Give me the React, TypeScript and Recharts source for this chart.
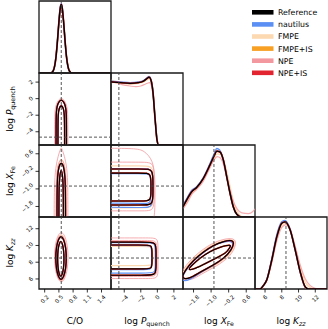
import React from 'react';
import { LineChart, Line, XAxis, YAxis, ReferenceLine, ReferenceArea } from 'recharts';

type Pt = [number, number];

// legend / series
const seriesNames = ['Reference', 'nautilus', 'FMPE', 'FMPE+IS', 'NPE', 'NPE+IS'];
const seriesColors = ['#000000', '#5b8ff3', '#fdd9b2', '#f7a024', '#f3989e', '#e1242f'];
const seriesWidths = [1.1, 1.2, 1.2, 1.3, 1.0, 1.5];
const seriesOpacity = [1, 1, 1, 1, 0.8, 1];
const drawOrder = [2, 3, 4, 1, 5, 0];

// parameters: C/O, log Pquench, log XFe, log Kzz
const coRange: Pt = [0.08, 1.6];
const pRange: Pt = [-5.6, 3.1];
const feRange: Pt = [-2.28, 1.0];
const kzzRange: Pt = [4.8, 13.4];
const histRange: Pt = [0, 1.05];

const coTicks = [0.2, 0.5, 0.8, 1.1, 1.4];
const pTicks = [-4, -2, 0, 2];
const feTicks = [-1.8, -1.0, -0.2, 0.6];
const kzzTicks = [6, 8, 10, 12];

const coTickLabels = ['0.2', '0.5', '0.8', '1.1', '1.4'];
const pTickLabels = ['\u22124', '\u22122', '0', '2'];
const feTickLabels = ['\u22121.8', '\u22121.0', '\u22120.2', '0.6'];
const kzzTickLabels = ['6', '8', '10', '12'];

const truthValues = [0.55, -4.65, -0.87, 8.5];

// 1D marginals (normalised height)
const coHistRef: Pt[] = [[0.08, 0], [0.33, 0], [0.38, 0.03], [0.41, 0.1], [0.44, 0.24], [0.47, 0.47], [0.5, 0.74], [0.53, 0.95], [0.55, 1.0], [0.57, 0.95], [0.6, 0.74], [0.63, 0.47], [0.66, 0.24], [0.69, 0.1], [0.72, 0.03], [0.77, 0], [1.6, 0]];
const coHistNaut: Pt[] = [[0.08, 0], [0.33, 0], [0.38, 0.03], [0.41, 0.1], [0.44, 0.25], [0.47, 0.48], [0.5, 0.76], [0.53, 0.97], [0.55, 1.01], [0.57, 0.96], [0.6, 0.74], [0.63, 0.46], [0.66, 0.23], [0.69, 0.09], [0.72, 0.03], [0.77, 0], [1.6, 0]];
const coHistNpe: Pt[] = [[0.08, 0], [0.32, 0], [0.37, 0.03], [0.41, 0.11], [0.44, 0.26], [0.47, 0.48], [0.5, 0.73], [0.53, 0.92], [0.55, 0.96], [0.57, 0.92], [0.6, 0.73], [0.63, 0.48], [0.66, 0.26], [0.69, 0.11], [0.73, 0.03], [0.78, 0], [1.6, 0]];

const pHistRef: Pt[] = [[-5.6, 0.92], [-4.5, 0.91], [-3.3, 0.9], [-2.3, 0.91], [-1.7, 0.93], [-1.25, 0.97], [-1.0, 0.99], [-0.78, 0.95], [-0.53, 0.77], [-0.28, 0.39], [-0.04, 0.07], [0.15, 0], [3.1, 0]];
const pHistNaut: Pt[] = [[-5.6, 0.93], [-4.5, 0.92], [-3.3, 0.91], [-2.3, 0.92], [-1.7, 0.94], [-1.25, 0.98], [-1.0, 1.0], [-0.78, 0.96], [-0.53, 0.78], [-0.28, 0.4], [-0.04, 0.08], [0.15, 0], [3.1, 0]];
const pHistFmpe: Pt[] = [[-5.6, 0.95], [-5.0, 0.92], [-4.2, 0.9], [-3.3, 0.89], [-2.3, 0.9], [-1.7, 0.92], [-1.25, 0.95], [-1.0, 0.97], [-0.75, 0.93], [-0.5, 0.76], [-0.25, 0.38], [0, 0.07], [0.2, 0], [3.1, 0]];
const pHistNpe: Pt[] = [[-5.6, 0.9], [-5.0, 0.93], [-4.5, 0.89], [-3.8, 0.87], [-3.3, 0.86], [-2.6, 0.85], [-2.0, 0.86], [-1.6, 0.88], [-1.2, 0.9], [-0.95, 0.91], [-0.7, 0.86], [-0.5, 0.7], [-0.25, 0.35], [0, 0.06], [0.2, 0], [3.1, 0]];

const feHistRef: Pt[] = [[-2.28, 0.15], [-2.11, 0.25], [-1.88, 0.37], [-1.66, 0.43], [-1.36, 0.56], [-1.05, 0.76], [-0.85, 0.9], [-0.74, 0.96], [-0.6, 0.95], [-0.44, 0.83], [-0.29, 0.59], [-0.14, 0.35], [0.01, 0.15], [0.17, 0.04], [0.39, 0], [1.0, 0]];
const feHistNaut: Pt[] = [[-2.28, 0.17], [-2.11, 0.27], [-1.88, 0.39], [-1.66, 0.44], [-1.36, 0.57], [-1.05, 0.78], [-0.85, 0.93], [-0.74, 1.0], [-0.62, 0.98], [-0.46, 0.85], [-0.29, 0.6], [-0.14, 0.36], [0.01, 0.15], [0.17, 0.04], [0.39, 0], [1.0, 0]];
const feHistFmpe: Pt[] = [[-2.28, 0.13], [-2.1, 0.22], [-1.88, 0.35], [-1.66, 0.42], [-1.36, 0.54], [-1.05, 0.74], [-0.85, 0.87], [-0.72, 0.92], [-0.56, 0.91], [-0.4, 0.8], [-0.24, 0.6], [-0.08, 0.36], [0.07, 0.16], [0.25, 0.05], [0.45, 0], [1.0, 0]];
const feHistNpe: Pt[] = [[-2.28, 0.12], [-2.1, 0.2], [-1.88, 0.33], [-1.66, 0.4], [-1.36, 0.52], [-1.05, 0.72], [-0.85, 0.84], [-0.72, 0.88], [-0.58, 0.86], [-0.44, 0.77], [-0.29, 0.58], [-0.14, 0.39], [0.01, 0.23], [0.2, 0.11], [0.4, 0.06], [0.7, 0.05], [0.9, 0.08], [1.0, 0.12]];

const kzzHistRef: Pt[] = [[4.8, 0], [5.4, 0], [5.8, 0.05], [6.2, 0.13], [6.8, 0.42], [7.4, 0.76], [8.0, 0.96], [8.4, 0.98], [9.0, 0.86], [9.6, 0.57], [10.2, 0.25], [10.8, 0.03], [11.2, 0], [13.4, 0]];
const kzzHistNaut: Pt[] = [[4.8, 0], [5.4, 0], [5.8, 0.05], [6.2, 0.14], [6.8, 0.44], [7.4, 0.79], [8.0, 0.98], [8.35, 1.0], [9.0, 0.87], [9.6, 0.57], [10.2, 0.24], [10.8, 0.03], [11.2, 0], [13.4, 0]];
const kzzHistFmpe: Pt[] = [[4.8, 0], [5.4, 0], [5.8, 0.05], [6.2, 0.13], [6.8, 0.4], [7.4, 0.73], [8.0, 0.93], [8.5, 0.96], [9.0, 0.88], [9.6, 0.62], [10.2, 0.32], [10.8, 0.1], [11.4, 0.02], [11.8, 0], [13.4, 0]];
const kzzHistNpe: Pt[] = [[4.8, 0], [5.3, 0], [5.8, 0.05], [6.2, 0.12], [6.8, 0.38], [7.4, 0.7], [8.0, 0.9], [8.5, 0.94], [9.0, 0.86], [9.6, 0.62], [10.2, 0.35], [10.8, 0.15], [11.4, 0.05], [12.0, 0.01], [12.3, 0], [13.4, 0]];

// 2D contours: C/O vs log Pquench
const coPRefOuter: Pt[] = [[0.44, -7], [0.44, -3], [0.445, -1.6], [0.46, -0.9], [0.5, -0.35], [0.55, -0.12], [0.6, -0.35], [0.64, -0.9], [0.655, -1.6], [0.66, -3], [0.66, -7]];
const coPRefInner: Pt[] = [[0.48, -7], [0.48, -3], [0.485, -1.9], [0.5, -1.2], [0.55, -0.7], [0.6, -1.2], [0.615, -1.9], [0.62, -3], [0.62, -7]];
const coPNpeOuter: Pt[] = [[0.41, -7], [0.41, -3], [0.415, -1.5], [0.44, -0.7], [0.49, -0.15], [0.55, 0.1], [0.61, -0.15], [0.66, -0.7], [0.685, -1.5], [0.69, -3], [0.69, -7]];
const coPNpeInner: Pt[] = [[0.435, -7], [0.435, -3], [0.44, -1.6], [0.455, -0.85], [0.5, -0.28], [0.55, -0.05], [0.6, -0.28], [0.645, -0.85], [0.66, -1.6], [0.665, -3], [0.665, -7]];

// C/O vs log XFe
const coFeRefOuter: Pt[] = [[0.46, -3], [0.46, -1.2], [0.47, -0.4], [0.5, 0.05], [0.55, 0.22], [0.6, 0.05], [0.63, -0.4], [0.64, -1.2], [0.64, -3]];
const coFeRefInner: Pt[] = [[0.5, -3], [0.5, -1.2], [0.51, -0.5], [0.55, 0.0], [0.585, -0.5], [0.595, -1.2], [0.595, -3]];
const coFeNpeOuter: Pt[] = [[0.4, -3], [0.4, -1.2], [0.42, -0.2], [0.47, 0.4], [0.53, 0.8], [0.55, 0.9], [0.57, 0.8], [0.63, 0.4], [0.68, -0.2], [0.69, -1.2], [0.69, -3]];
const coFeNpeInner: Pt[] = [[0.44, -3], [0.44, -1.2], [0.45, -0.3], [0.49, 0.2], [0.55, 0.38], [0.61, 0.2], [0.645, -0.3], [0.655, -1.2], [0.655, -3]];

// C/O vs log Kzz
const coKRefOuter: Pt[] = [[0.43, 8.5], [0.445, 7.2], [0.4875, 6.25], [0.545, 5.8], [0.6025, 6.25], [0.645, 7.2], [0.66, 8.5], [0.645, 9.8], [0.6025, 10.75], [0.545, 11.2], [0.4875, 10.75], [0.445, 9.8]];
const coKRefInner: Pt[] = [[0.47, 8.4], [0.479, 7.35], [0.505, 6.58], [0.54, 6.2], [0.575, 6.58], [0.601, 7.35], [0.61, 8.4], [0.601, 9.45], [0.575, 10.22], [0.54, 10.6], [0.505, 10.22], [0.479, 9.45]];
const coKNpeOuter: Pt[] = [[0.4, 8.6], [0.42, 7.1], [0.475, 6.0], [0.55, 5.5], [0.625, 6.0], [0.68, 7.1], [0.7, 8.6], [0.68, 10.1], [0.625, 11.2], [0.55, 11.7], [0.475, 11.2], [0.42, 10.1]];
const coKNpeInner: Pt[] = [[0.42, 8.55], [0.435, 7.15], [0.48, 6.1], [0.545, 5.65], [0.61, 6.1], [0.655, 7.15], [0.67, 8.55], [0.655, 9.95], [0.61, 10.95], [0.545, 11.4], [0.48, 10.95], [0.435, 9.95]];

// log Pquench vs log XFe
const pFeRefOuter: Pt[] = [[-7, -0.09], [-1.5, -0.09], [-0.53, -0.09], [-0.53, -0.8], [-0.53, -1.1], [-0.53, -1.73], [-1.5, -1.73], [-7, -1.73]];
const pFeRefInner: Pt[] = [[-7, -0.28], [-1.6, -0.28], [-0.77, -0.28], [-0.77, -0.85], [-0.77, -1.05], [-0.77, -1.55], [-1.6, -1.55], [-7, -1.55]];
const pFeNautOuter: Pt[] = [[-7, -0.07], [-1.5, -0.07], [-0.55, -0.07], [-0.55, -0.8], [-0.55, -1.1], [-0.55, -1.85], [-1.5, -1.85], [-7, -1.83]];
const pFeNautInner: Pt[] = [[-7, -0.3], [-1.6, -0.3], [-0.8, -0.3], [-0.8, -0.85], [-0.8, -1.1], [-0.75, -1.68], [-1.6, -1.66], [-7, -1.64]];
const pFeFmpeOuter: Pt[] = [[-7, 0.05], [-1.5, 0.05], [-0.45, 0.03], [-0.45, -0.8], [-0.45, -1.2], [-0.47, -1.86], [-1.5, -1.86], [-7, -1.86]];
const pFeNpeOuter: Pt[] = [[-7, 0.85], [-2.6, 0.85], [-1.6, 0.75], [-0.5, 0.3], [-0.28, -0.5], [-0.28, -1.6], [-0.35, -2.6], [-1.5, -2.7], [-7, -2.7]];
const pFeNpeInner: Pt[] = [[-7, 0.22], [-1.5, 0.22], [-0.4, 0.2], [-0.38, -0.6], [-0.38, -1.3], [-0.4, -2.0], [-1.5, -2.0], [-7, -2.0]];

// log Pquench vs log Kzz
const pKRefOuter: Pt[] = [[-7, 10.4], [-1.2, 10.4], [-0.16, 10.4], [-0.16, 9.3], [-0.16, 7.6], [-0.16, 6.45], [-1.2, 6.45], [-7, 6.45]];
const pKRefInner: Pt[] = [[-7, 10.05], [-1.5, 10.05], [-0.65, 10.05], [-0.65, 9.2], [-0.65, 8.0], [-0.65, 7.2], [-1.5, 7.2], [-7, 7.2]];
const pKNautOuter: Pt[] = [[-7, 10.35], [-1.2, 10.35], [-0.25, 10.35], [-0.25, 9.3], [-0.25, 7.6], [-0.25, 6.7], [-1.2, 6.7], [-7, 6.7]];
const pKNautInner: Pt[] = [[-7, 10.0], [-1.5, 10.0], [-0.7, 10.0], [-0.7, 9.2], [-0.7, 8.0], [-0.7, 7.1], [-1.5, 7.1], [-7, 7.1]];
const pKFmpeInner: Pt[] = [[-7, 9.9], [-1.5, 9.9], [-0.55, 9.9], [-0.55, 9.0], [-0.55, 8.2], [-0.55, 7.6], [-1.5, 7.6], [-7, 7.6]];
const pKNpeOuter: Pt[] = [[-7, 10.9], [-1.0, 10.9], [0.08, 10.9], [0.08, 9.8], [0.08, 7.2], [0.08, 6.05], [-1.0, 6.05], [-7, 6.05]];
const pKNpeInner: Pt[] = [[-7, 10.6], [-1.1, 10.6], [-0.05, 10.6], [-0.05, 9.5], [-0.05, 7.4], [-0.05, 6.3], [-1.1, 6.3], [-7, 6.3]];

// log XFe vs log Kzz
const feKRefOuter: Pt[] = [[0.1, 10.75], [-0.44, 10.5], [-0.9, 10.02], [-1.36, 9.22], [-1.81, 8.23], [-2.19, 7.03], [-2.37, 6.0], [-1.96, 6.03], [-1.51, 6.83], [-0.9, 7.63], [-0.44, 8.42], [-0.06, 9.42]];
const feKRefInner: Pt[] = [[-0.05, 10.15], [-0.59, 9.82], [-1.05, 9.3], [-1.51, 8.5], [-1.88, 7.63], [-2.08, 7.0], [-1.73, 7.22], [-1.28, 7.82], [-0.82, 8.42], [-0.28, 9.14], [-0.17, 9.7]];
const feKNautOuter: Pt[] = [[0.05, 10.6], [-0.44, 10.45], [-0.9, 9.98], [-1.36, 9.18], [-1.81, 8.15], [-2.2, 6.9], [-2.4, 5.7], [-1.96, 5.85], [-1.51, 6.75], [-0.9, 7.6], [-0.44, 8.4], [-0.08, 9.4]];
const feKFmpeOuter: Pt[] = [[0.15, 10.8], [-0.44, 10.65], [-0.92, 10.17], [-1.38, 9.37], [-1.83, 8.38], [-2.22, 7.15], [-2.4, 6.1], [-1.96, 5.9], [-1.5, 6.7], [-0.88, 7.5], [-0.4, 8.3], [0.0, 9.35]];
const feKNpeInner: Pt[] = [[0.2, 10.95], [-0.44, 10.78], [-0.93, 10.3], [-1.4, 9.5], [-1.86, 8.5], [-2.26, 7.25], [-2.45, 6.2], [-1.96, 5.7], [-1.48, 6.55], [-0.85, 7.38], [-0.36, 8.2], [0.05, 9.3]];
const feKNpeOuter: Pt[] = [[-2.42, 7.22], [-1.96, 8.83], [-1.36, 10.02], [-0.75, 10.81], [-0.14, 11.21], [0.32, 11.21], [0.77, 11.81], [1.23, 12.2], [1.23, 11.0], [0.62, 10.81], [0.24, 10.41], [0.09, 9.42], [-0.29, 8.11], [-0.9, 7.1], [-1.51, 6.32], [-1.96, 5.52], [-2.42, 5.31]];

type Curve = 'basis' | 'basisClosed' | 'monotone';
type Panel = { r: number; c: number; curve: Curve; sets: Pt[][][] };

// sets are ordered like seriesNames
const panels: Panel[] = [
  { r: 0, c: 0, curve: 'monotone', sets: [[coHistRef], [coHistNaut], [coHistNpe], [coHistRef], [coHistNpe], [coHistRef]] },
  { r: 1, c: 1, curve: 'monotone', sets: [[pHistRef], [pHistNaut], [pHistFmpe], [pHistRef], [pHistNpe], [pHistRef]] },
  { r: 2, c: 2, curve: 'monotone', sets: [[feHistRef], [feHistNaut], [feHistFmpe], [feHistRef], [feHistNpe], [feHistRef]] },
  { r: 3, c: 3, curve: 'monotone', sets: [[kzzHistRef], [kzzHistNaut], [kzzHistFmpe], [kzzHistRef], [kzzHistNpe], [kzzHistRef]] },
  { r: 1, c: 0, curve: 'basis', sets: [[coPRefOuter, coPRefInner], [coPRefOuter, coPRefInner], [coPNpeInner], [coPRefOuter, coPRefInner], [coPNpeOuter, coPNpeInner], [coPRefOuter, coPRefInner]] },
  { r: 2, c: 0, curve: 'basis', sets: [[coFeRefOuter, coFeRefInner], [coFeRefOuter, coFeRefInner], [coFeNpeInner], [coFeRefOuter, coFeRefInner], [coFeNpeOuter, coFeNpeInner], [coFeRefOuter, coFeRefInner]] },
  { r: 3, c: 0, curve: 'basisClosed', sets: [[coKRefOuter, coKRefInner], [coKRefOuter, coKRefInner], [coKNpeInner], [coKRefOuter, coKRefInner], [coKNpeOuter, coKNpeInner], [coKRefOuter, coKRefInner]] },
  { r: 2, c: 1, curve: 'basis', sets: [[pFeRefOuter, pFeRefInner], [pFeNautOuter, pFeNautInner], [pFeFmpeOuter], [pFeRefOuter, pFeRefInner], [pFeNpeOuter, pFeNpeInner], [pFeRefOuter, pFeRefInner]] },
  { r: 3, c: 1, curve: 'basis', sets: [[pKRefOuter, pKRefInner], [pKNautOuter, pKNautInner], [pKFmpeInner], [pKRefOuter, pKRefInner], [pKNpeOuter, pKNpeInner], [pKRefOuter, pKRefInner]] },
  { r: 3, c: 2, curve: 'basisClosed', sets: [[feKRefOuter, feKRefInner], [feKNautOuter], [feKFmpeOuter], [feKRefOuter, feKRefInner], [feKNpeInner], [feKRefOuter, feKRefInner]] },
];

const ranges = [coRange, pRange, feRange, kzzRange];
const tickSets = [coTicks, pTicks, feTicks, kzzTicks];
const labelSets = [coTickLabels, pTickLabels, feTickLabels, kzzTickLabels];

const FONT = 'DejaVu Sans, sans-serif';
const TICK_FS = 5.6;
const GLYPH: Record<string, number> = { '.': 0.318, '\u2212': 0.838 };
const textW = (s: string) => {
  let w = 0;
  for (const ch of s) w += GLYPH[ch] ?? 0.636;
  return w * TICK_FS;
};

function makeTick(ticks: number[], labels: string[], axis: 'x' | 'y') {
  return (props: any) => {
    const { x, y, payload } = props;
    const i = ticks.findIndex((t) => Math.abs(t - payload.value) < 1e-9);
    const s = labels[i] ?? String(payload.value);
    const d = (textW(s) + TICK_FS * 0.73) / Math.SQRT2 / 2;
    const cx = axis === 'x' ? x : x - d;
    const cy = axis === 'x' ? y + d : y;
    return (
      <text x={cx} y={cy} textAnchor="middle" dominantBaseline="central" fontSize={TICK_FS}
        fontFamily={FONT} fill="#000" transform={`rotate(-45 ${cx} ${cy})`}>
        {s}
      </text>
    );
  };
}

const X0 = 39;
const Y0 = 1;
const S = 72;
const M = 2;
const YW = 30;
const XH = 28;

function CornerPanel({ p }: { p: Panel }) {
  const diag = p.r === p.c;
  const showY = p.c === 0 && !diag;
  const showX = p.r === 3;
  const xDom = ranges[p.c];
  const yDom = diag ? histRange : ranges[p.r];
  const width = S + 2 * M + (showY ? YW : 0);
  const height = S + 2 * M + (showX ? XH : 0);
  const left = X0 + p.c * S - M - (showY ? YW : 0);
  const top = Y0 + p.r * S - M;
  const lines: React.ReactNode[] = [];
  drawOrder.forEach((si) => {
    p.sets[si].forEach((pts, k) => {
      lines.push(
        <Line key={`${si}-${k}`} data={pts.map(([x, y]) => ({ x, y }))} dataKey="y" type={p.curve}
          stroke={seriesColors[si]} strokeOpacity={seriesOpacity[si]}
          strokeWidth={diag ? seriesWidths[si] + 0.2 : seriesWidths[si]}
          dot={false} activeDot={false} isAnimationActive={false} />
      );
    });
  });
  return (
    <div style={{ position: 'absolute', left, top }}>
      <LineChart width={width} height={height} margin={{ top: M, right: M, bottom: M, left: M }}>
        <XAxis type="number" dataKey="x" domain={xDom} allowDataOverflow ticks={tickSets[p.c]}
          interval={0} hide={!showX} height={XH} axisLine={false} tickSize={3.5} tickMargin={2}
          tickLine={{ stroke: '#000', strokeWidth: 0.8 }} tick={makeTick(tickSets[p.c], labelSets[p.c], 'x')} />
        <YAxis type="number" domain={yDom} allowDataOverflow ticks={diag ? [] : tickSets[p.r]}
          interval={0} hide={!showY} width={YW} axisLine={false} tickSize={3.5} tickMargin={2}
          tickLine={{ stroke: '#000', strokeWidth: 0.8 }} tick={makeTick(tickSets[p.r], labelSets[p.r], 'y')} />
        {lines}
        <ReferenceLine x={truthValues[p.c]} stroke="#444" strokeWidth={0.9} strokeDasharray="3 2" />
        {!diag && <ReferenceLine y={truthValues[p.r]} stroke="#444" strokeWidth={0.9} strokeDasharray="3 2" />}
        <ReferenceArea x1={xDom[0]} x2={xDom[1]} y1={yDom[0]} y2={yDom[1]} fill="none" fillOpacity={0}
          stroke="#1a1a1a" strokeWidth={1.3} />
      </LineChart>
    </div>
  );
}

function Titles() {
  const xc = [X0 + S / 2, X0 + 1.5 * S, X0 + 2.5 * S, X0 + 3.5 * S];
  const yc = [Y0 + 1.5 * S, Y0 + 2.5 * S, Y0 + 3.5 * S];
  const ly = 323.5;
  const lx = 13;
  return (
    <svg width={328} height={329} style={{ position: 'absolute', left: 0, top: 0 }} fontFamily={FONT} fontSize={9}>
      <text x={xc[0]} y={ly} textAnchor="middle">C/O</text>
      <text x={xc[1]} y={ly} textAnchor="middle">log <tspan fontStyle="italic">P</tspan><tspan fontSize={6.3} dy={2}>quench</tspan></text>
      <text x={xc[2]} y={ly} textAnchor="middle">log <tspan fontStyle="italic">X</tspan><tspan fontSize={6.3} dy={2}>Fe</tspan></text>
      <text x={xc[3]} y={ly} textAnchor="middle">log <tspan fontStyle="italic">K</tspan><tspan fontSize={6.3} fontStyle="italic" dy={2}>zz</tspan></text>
      <text x={lx} y={yc[0]} textAnchor="middle" transform={`rotate(-90 ${lx} ${yc[0]})`}>log <tspan fontStyle="italic">P</tspan><tspan fontSize={6.3} dy={2}>quench</tspan></text>
      <text x={lx} y={yc[1]} textAnchor="middle" transform={`rotate(-90 ${lx} ${yc[1]})`}>log <tspan fontStyle="italic">X</tspan><tspan fontSize={6.3} dy={2}>Fe</tspan></text>
      <text x={lx} y={yc[2]} textAnchor="middle" transform={`rotate(-90 ${lx} ${yc[2]})`}>log <tspan fontStyle="italic">K</tspan><tspan fontSize={6.3} fontStyle="italic" dy={2}>zz</tspan></text>
      {seriesNames.map((name, i) => (
        <g key={name}>
          <rect x={252} y={10 + i * 12.1} width={21.5} height={4.6} fill={seriesColors[i]} />
          <text x={278} y={15.2 + i * 12.1} fontSize={7.8}>{name}</text>
        </g>
      ))}
    </svg>
  );
}

export default function App() {
  return (
    <div style={{ position: 'relative', width: 328, height: 329, background: '#fff', overflow: 'hidden' }}>
      <style>{'body{margin:0}'}</style>
      {panels.map((p) => (
        <CornerPanel key={`${p.r}-${p.c}`} p={p} />
      ))}
      <Titles />
    </div>
  );
}
